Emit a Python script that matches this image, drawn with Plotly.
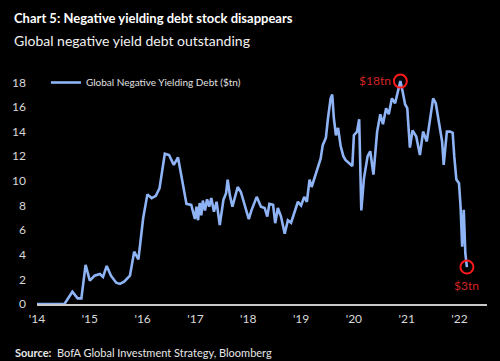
import plotly.graph_objects as go

# ---- data (decimal year, $tn) ----
years = [
    2014.00, 2014.52, 2014.67, 2014.77, 2014.84, 2014.92, 2015.00, 2015.09, 2015.19, 2015.25,
    2015.32, 2015.40, 2015.50, 2015.57, 2015.65, 2015.76, 2015.84, 2015.92, 2016.01, 2016.09,
    2016.17, 2016.25, 2016.32, 2016.42, 2016.50, 2016.59, 2016.67, 2016.83, 2016.92, 2016.96,
    2016.99, 2017.02, 2017.05, 2017.08, 2017.11, 2017.14, 2017.18, 2017.22, 2017.26, 2017.30,
    2017.35, 2017.40, 2017.46, 2017.53, 2017.58, 2017.61, 2017.65, 2017.70, 2017.75, 2017.80,
    2017.86, 2017.94, 2018.01, 2018.06, 2018.09, 2018.16, 2018.24, 2018.31, 2018.36, 2018.40,
    2018.47, 2018.51, 2018.56, 2018.62, 2018.69, 2018.75, 2018.81, 2018.88, 2018.94, 2019.00,
    2019.06, 2019.11, 2019.16, 2019.20, 2019.25, 2019.31, 2019.37, 2019.41, 2019.47, 2019.51,
    2019.56, 2019.59, 2019.62, 2019.66, 2019.70, 2019.75, 2019.80, 2019.84, 2019.91, 2019.97,
    2020.00, 2020.06, 2020.10, 2020.14, 2020.19, 2020.26, 2020.31, 2020.37, 2020.44, 2020.50,
    2020.55, 2020.61, 2020.66, 2020.72, 2020.78, 2020.83, 2020.88, 2020.93, 2020.97, 2021.01,
    2021.06, 2021.11, 2021.18, 2021.25, 2021.31, 2021.38, 2021.44, 2021.50, 2021.55, 2021.61,
    2021.67, 2021.70, 2021.76, 2021.82, 2021.87, 2021.90, 2021.94, 2021.99, 2022.02, 2022.05,
    2022.08, 2022.11, 2022.14,
]
debt_tn = [
    0.0, 0.0, 1.0, 0.46, 0.46, 3.17, 1.9, 2.3, 2.44, 2.2,
    3.09, 2.3, 1.73, 1.63, 1.81, 2.3, 4.25, 3.63, 6.96, 8.9,
    8.6, 8.78, 9.4, 12.2, 12.1, 11.3, 11.9, 8.13, 8.05, 7.5,
    6.9, 7.9, 6.8, 8.2, 7.2, 8.4, 7.6, 8.5, 7.9, 8.6,
    7.5, 8.3, 6.4, 8.46, 9.0, 10.1, 8.86, 7.9, 8.6, 9.5,
    9.1, 7.9, 6.9, 7.6, 7.9, 8.7, 7.9, 7.8, 7.1, 8.13,
    8.05, 6.56, 7.8, 7.1, 5.7, 6.8, 6.6, 7.6, 8.3, 8.0,
    8.7, 8.3, 10.1, 9.5, 10.2, 10.9, 11.8, 12.9, 13.5, 15.1,
    16.7, 17.0, 15.1, 13.7, 14.3, 12.8, 12.0, 11.7, 11.4, 11.2,
    13.7, 14.0, 15.0, 7.6, 10.2, 12.0, 12.4, 10.5, 14.0, 15.4,
    14.6, 15.9, 15.4, 16.7, 16.3, 17.3, 18.1, 17.1, 16.2, 15.9,
    12.7, 14.1, 13.6, 12.1, 14.0, 13.2, 15.1, 16.7, 16.3, 14.6,
    13.2, 11.3, 14.0, 14.0, 13.9, 12.0, 10.1, 9.8, 7.9, 4.66,
    7.64, 4.1, 3.0,
]
tick_years = [2014, 2015, 2016, 2017, 2018, 2019, 2020, 2021, 2022]
tick_text = ["'14", "'15", "'16", "'17", "'18", "'19", "'20", "'21", "'22"]
y_ticks = [0, 2, 4, 6, 8, 10, 12, 14, 16, 18]
series_name = "Global Negative Yielding Debt ($tn)"
peak_label = "$18tn"
last_label = "$3tn"

FONT = "Lato, Roboto, sans-serif"
W, H = 500, 361
ML, MR, MT, MB = 33, 13, 70, 57
PW, PH = W - ML - MR, H - MT - MB

def px(x):
    return (x - ML) / PW

def py(y):
    return (H - MB - y) / PH

ipk = max(range(len(debt_tn)), key=lambda i: debt_tn[i])
ilast = len(debt_tn) - 1

fig = go.Figure()
fig.add_trace(go.Scatter(
    x=years, y=debt_tn, mode="lines", name=series_name,
    line=dict(color="#8fb4f6", width=2.6), showlegend=True,
))
fig.add_trace(go.Scatter(
    x=[years[ipk], years[ilast]], y=[debt_tn[ipk], debt_tn[ilast]],
    mode="markers", showlegend=False, hoverinfo="skip",
    marker=dict(symbol="circle-open", size=13, color="#ff1a1a", line=dict(width=2, color="#ff1a1a")),
))

annots = [
    dict(x=years[ipk], y=debt_tn[ipk], xref="x", yref="y", text=peak_label, showarrow=True,
         arrowcolor="rgba(0,0,0,0)", ax=-25, ay=-1, font=dict(color="#d42424", size=12, family=FONT)),
    dict(x=years[ilast], y=debt_tn[ilast], xref="x", yref="y", text=last_label, showarrow=True,
         arrowcolor="rgba(0,0,0,0)", ax=0, ay=18, font=dict(color="#d42424", size=12, family=FONT)),
    dict(x=px(8), y=py(18), xref="paper", yref="paper", xanchor="left", yanchor="middle",
         text="<b>Chart 5: Negative yielding debt stock disappears</b>", showarrow=False,
         font=dict(color="#ffffff", size=13, family=FONT)),
    dict(x=px(8), y=py(40), xref="paper", yref="paper", xanchor="left", yanchor="middle",
         text="Global negative yield debt outstanding", showarrow=False,
         font=dict(color="#f2f2f2", size=14, family=FONT)),
    dict(x=px(9), y=py(352), xref="paper", yref="paper", xanchor="left", yanchor="middle",
         text="<b>Source:</b>  BofA Global Investment Strategy, Bloomberg", showarrow=False,
         font=dict(color="#e8e8e8", size=11, family=FONT)),
]

fig.update_layout(
    width=W, height=H, margin=dict(l=ML, r=MR, t=MT, b=MB, pad=0),
    paper_bgcolor="#000000", plot_bgcolor="#000000",
    font=dict(family=FONT, color="#d9d9d9", size=12),
    annotations=annots,
    legend=dict(x=px(42), y=py(68), xanchor="left", yanchor="top", bgcolor="rgba(0,0,0,0)",
                font=dict(size=10, color="#e0e0e0", family=FONT)),
    xaxis=dict(range=[2014, 2022.52], tickvals=tick_years, ticktext=tick_text, showgrid=False,
               zeroline=False, showline=True, linecolor="#c8c8c8", linewidth=2, ticks="",
               ticklabelstandoff=3, tickfont=dict(size=12, color="#d9d9d9")),
    yaxis=dict(range=[0, 19], tickvals=y_ticks, showgrid=False, zeroline=False, showline=False,
               ticks="", ticklabelstandoff=10, tickfont=dict(size=12, color="#d9d9d9")),
    showlegend=True,
)

fig.write_html("out.html", config={"displayModeBar": False},
               post_script="document.body.style.margin='0';")
